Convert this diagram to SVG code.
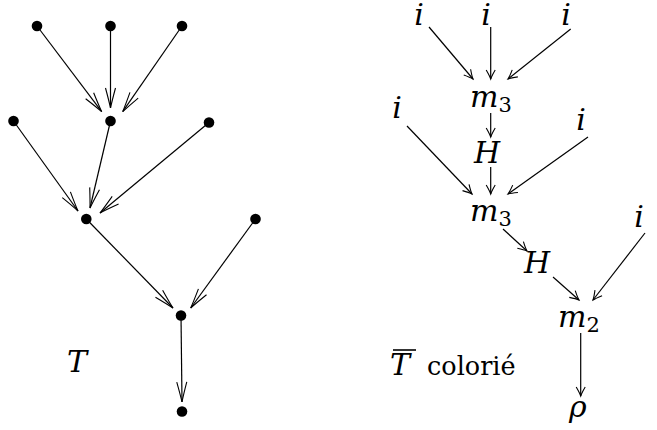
<svg xmlns="http://www.w3.org/2000/svg" width="657" height="430" viewBox="0 0 657 430">
<style>
.dot{fill:#000}
.e{stroke:#000;stroke-width:1.2;fill:none}
.ea{marker-end:url(#bigArrow)}
.eb{marker-end:url(#smallArrow)}
text{font-family:"DejaVu Serif",serif;fill:#000}
.m{font-style:italic;font-size:30px}
.c{text-anchor:middle}
.sub{font-style:normal;font-size:21px}
.rm{font-style:normal;font-size:25.5px}
</style>
<defs>
<marker id="bigArrow" viewBox="-22 -7 24 14" refX="0" refY="0" markerWidth="24" markerHeight="14" markerUnits="userSpaceOnUse" orient="auto">
<path d="M-20,-5 Q-7,-1.5 0,0 Q-7,1.5 -20,5" fill="none" stroke="#000" stroke-width="1.1"/>
</marker>
<marker id="smallArrow" viewBox="-11 -6 13 12" refX="0" refY="0" markerWidth="13" markerHeight="12" markerUnits="userSpaceOnUse" orient="auto">
<path d="M-9,-4.5 Q-3,-1 0,0 Q-3,1 -9,4.5" fill="none" stroke="#000" stroke-width="1.1"/>
</marker>
</defs>

<g id="connectors">
<line class="e ea" x1="37" y1="26" x2="101.7" y2="111.7"/>
<line class="e ea" x1="110.5" y1="26" x2="110.5" y2="108"/>
<line class="e ea" x1="182" y1="26" x2="122.7" y2="111.7"/>
<line class="e ea" x1="13.5" y1="121" x2="78" y2="211"/>
<line class="e ea" x1="110.5" y1="121" x2="90" y2="208"/>
<line class="e ea" x1="209" y1="122.5" x2="100" y2="213"/>
<line class="e ea" x1="86.3" y1="219" x2="173" y2="308"/>
<line class="e ea" x1="255.5" y1="219" x2="190.7" y2="308"/>
<line class="e ea" x1="181" y1="315.5" x2="182" y2="402"/>

<line class="e eb" x1="429" y1="27" x2="473" y2="79"/>
<line class="e eb" x1="490.7" y1="27" x2="490.7" y2="79"/>
<line class="e eb" x1="570.7" y1="29" x2="508" y2="79"/>
<line class="e eb" x1="490.7" y1="113" x2="490.7" y2="137"/>
<line class="e eb" x1="407" y1="126" x2="472" y2="194"/>
<line class="e eb" x1="588" y1="137" x2="508" y2="194"/>
<line class="e eb" x1="490.7" y1="167" x2="490.7" y2="194"/>
<line class="e eb" x1="503" y1="229" x2="527" y2="251"/>
<line class="e eb" x1="645" y1="233" x2="593" y2="300"/>
<line class="e eb" x1="553" y1="277" x2="579" y2="300"/>
<line class="e eb" x1="580.7" y1="333" x2="580.7" y2="396"/>
</g>

<g id="t-dots">
<g id="n1"><circle class="dot" cx="37" cy="26" r="5.3"/></g>
<g id="n2"><circle class="dot" cx="110.5" cy="26" r="5.3"/></g>
<g id="n3"><circle class="dot" cx="182" cy="26" r="5.3"/></g>
<g id="n4"><circle class="dot" cx="13.5" cy="121" r="5.3"/></g>
<g id="n5"><circle class="dot" cx="110.5" cy="121" r="5.3"/></g>
<g id="n6"><circle class="dot" cx="209" cy="122.5" r="5.3"/></g>
<g id="n7"><circle class="dot" cx="86.3" cy="219" r="5.3"/></g>
<g id="n8"><circle class="dot" cx="255.5" cy="219" r="5.3"/></g>
<g id="n9"><circle class="dot" cx="181" cy="315.5" r="5.3"/></g>
<g id="n10"><circle class="dot" cx="182" cy="411.5" r="5.3"/></g>
</g>
<g id="labelT"><text class="m" x="67" y="372">T</text></g>

<g id="r1"><text class="m c" x="419" y="25">i</text></g>
<g id="r2"><text class="m c" x="486" y="25">i</text></g>
<g id="r3"><text class="m c" x="566" y="25">i</text></g>
<g id="r4"><text class="m" x="470" y="107">m<tspan class="sub" dy="5">3</tspan></text></g>
<g id="r5"><text class="m c" x="397" y="118">i</text></g>
<g id="r6"><text class="m c" x="581" y="130">i</text></g>
<g id="r7"><text class="m" x="474" y="163">H</text></g>
<g id="r8"><text class="m" x="470" y="221">m<tspan class="sub" dy="5">3</tspan></text></g>
<g id="r9"><text class="m c" x="639" y="227">i</text></g>
<g id="r10"><text class="m" x="524" y="273">H</text></g>
<g id="r11"><text class="m" x="558" y="327">m<tspan class="sub" dy="5">2</tspan></text></g>
<g id="r12"><text class="m" x="569" y="417">ρ</text></g>
<g id="labelTbar">
<line x1="393" y1="350" x2="416" y2="350" stroke="#000" stroke-width="1.6"/>
<text class="m" x="390" y="375">T</text>
<text class="rm" x="427" y="375">colorié</text>
</g>
</svg>
